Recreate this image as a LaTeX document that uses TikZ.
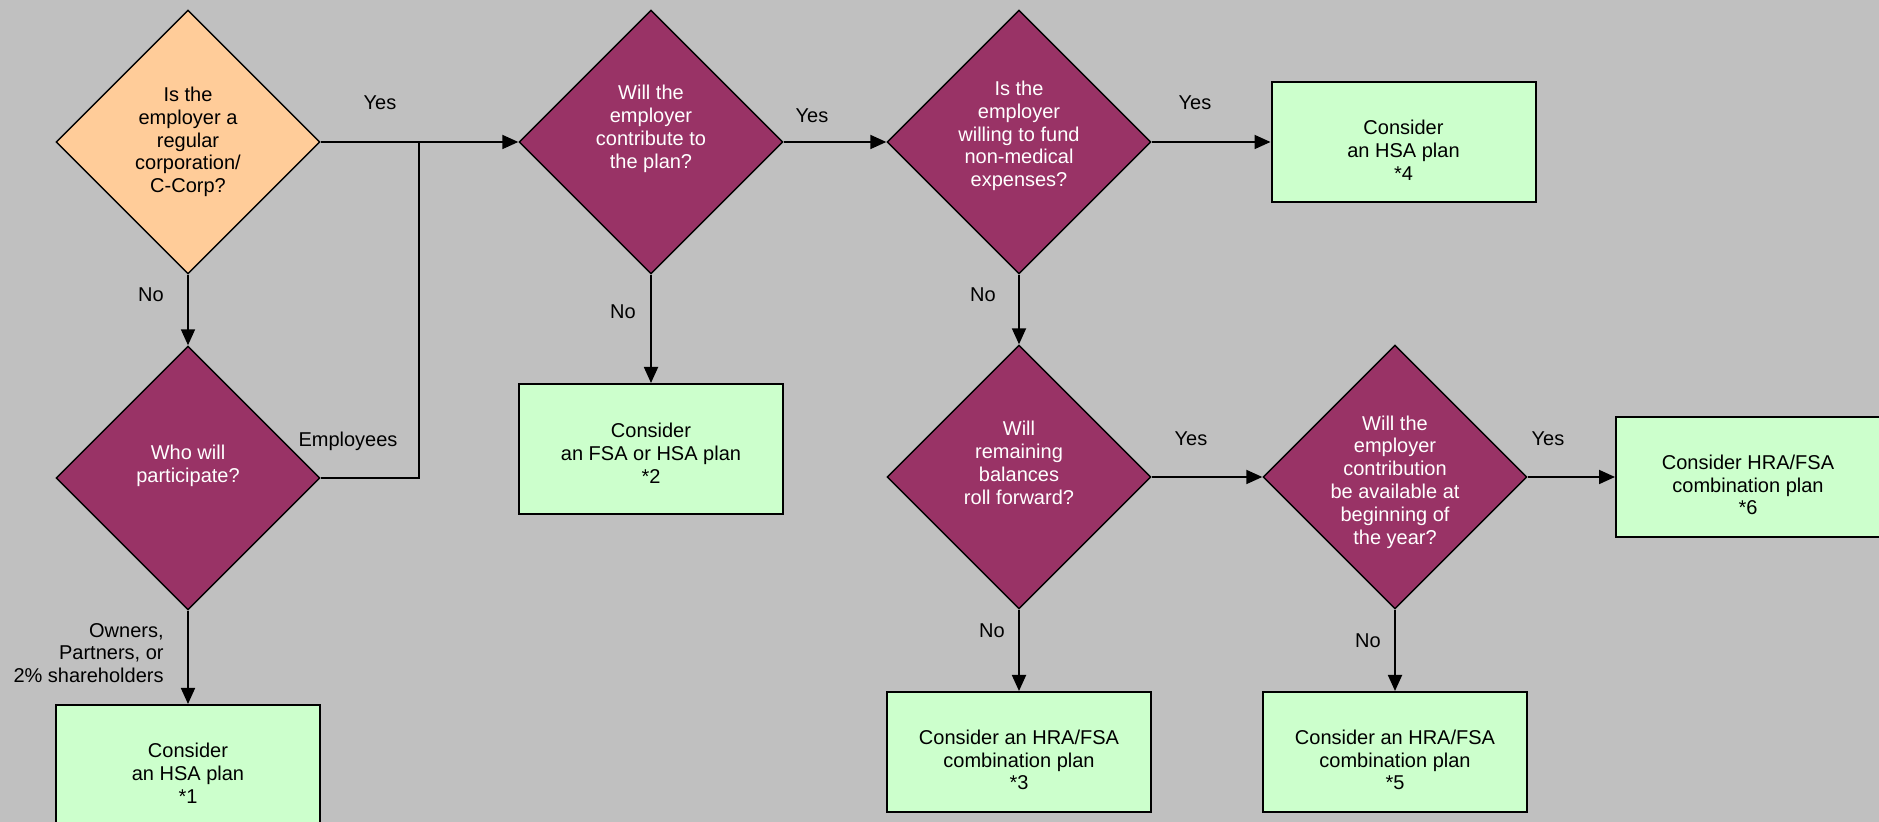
\documentclass[tikz,border=0pt]{standalone}
\usepackage{fontspec}
\setmainfont{Liberation Sans}
\usetikzlibrary{shapes.geometric,arrows.meta}

\definecolor{bggray}{HTML}{C0C0C0}
\definecolor{plum}{HTML}{993366}
\definecolor{peach}{HTML}{FFCC99}
\definecolor{mint}{HTML}{CCFFCC}

\tikzset{
  question/.style={diamond, aspect=1, draw=black, line width=0.7pt, fill=plum,
    minimum width=132pt, minimum height=132pt, inner sep=0pt},
  qtext/.style={text=white, align=center, inner sep=0pt},
  plan/.style={rectangle, draw=black, line width=1pt, fill=mint,
    minimum width=132pt, minimum height=60pt, inner sep=0pt},
  ptext/.style={align=center, inner sep=0pt, yshift=-4pt},
  answer/.style={align=center, inner sep=0pt},
  flow/.style={->, line width=0.9pt},
}

\begin{document}
\begin{tikzpicture}[x=0.5pt, y=-0.5pt, font=\fontsize{10}{11.4}\selectfont,
  >={Triangle[length=8pt,width=7pt]}]
\fill[bggray] (0,0) rectangle (1879,822);
\useasboundingbox (0,0) rectangle (1879,822);

% questions
\node[question, fill=peach, label={[qtext, text=black]center:{Is the\\employer a\\regular\\corporation/\\C-Corp?}}] (corp) at (188,142) {};
\node[question, label={[qtext, yshift=6.25pt]center:{Who will\\participate?}}] (who) at (188,478) {};
\node[question, label={[qtext, yshift=6.5pt]center:{Will the\\employer\\contribute to\\the plan?}}] (contrib) at (651,142) {};
\node[question, label={[qtext, yshift=3pt]center:{Is the\\employer\\willing to fund\\non-medical\\expenses?}}] (fund) at (1019,142) {};
\node[question, label={[qtext, yshift=7pt]center:{Will\\remaining\\balances\\roll forward?}}] (roll) at (1019,477) {};
\node[question, label={[qtext, yshift=-2.5pt]center:{Will the\\employer\\contribution\\be available at\\beginning of\\the year?}}] (avail) at (1395,477) {};

% plans
\node[plan, label={[ptext]center:{Consider\\an HSA plan\\*1}}] (hsa1) at (188,765) {};
\node[plan, minimum height=65pt, label={[ptext, yshift=2pt]center:{Consider\\an FSA or HSA plan\\*2}}] (fsa2) at (651,449) {};
\node[plan, label={[ptext]center:{Consider an HRA/FSA\\combination plan\\*3}}] (combo3) at (1019,752) {};
\node[plan, label={[ptext]center:{Consider\\an HSA plan\\*4}}] (hsa4) at (1403.5,142) {};
\node[plan, label={[ptext]center:{Consider an HRA/FSA\\combination plan\\*5}}] (combo5) at (1395,752) {};
\node[plan, label={[ptext]center:{Consider HRA/FSA\\combination plan\\*6}}] (combo6) at (1748,477) {};

% answers
\node[answer] (yes1) at (380,103) {Yes};
\node[answer] (no1) at (151,295) {No};
\node[answer] (employees) at (348,441) {Employees};
\node[answer, align=right, anchor=east] (owners) at (164,653) {Owners,\\Partners, or\\2\% shareholders};
\node[answer] (yes2) at (812,116) {Yes};
\node[answer] (no2) at (623,312) {No};
\node[answer] (yes3) at (1195,103) {Yes};
\node[answer] (no3) at (983,295) {No};
\node[answer] (yes4) at (1191,439) {Yes};
\node[answer] (no4) at (992,631) {No};
\node[answer] (yes5) at (1548,439) {Yes};
\node[answer] (no5) at (1368,641) {No};

% connectors
\coordinate (join) at (419,142);
\draw[flow] (corp.east) -- (contrib.west);
\draw[line width=0.9pt] (who.east) -| (join);
\draw[flow] (corp.south) -- (who.north);
\draw[flow] (who.south) -- (hsa1.north);
\draw[flow] (contrib.south) -- (fsa2.north);
\draw[flow] (contrib.east) -- (fund.west);
\draw[flow] (fund.east) -- (hsa4.west);
\draw[flow] (fund.south) -- (roll.north);
\draw[flow] (roll.east) -- (avail.west);
\draw[flow] (roll.south) -- (combo3.north);
\draw[flow] (avail.east) -- (combo6.west);
\draw[flow] (avail.south) -- (combo5.north);
\end{tikzpicture}
\end{document}
